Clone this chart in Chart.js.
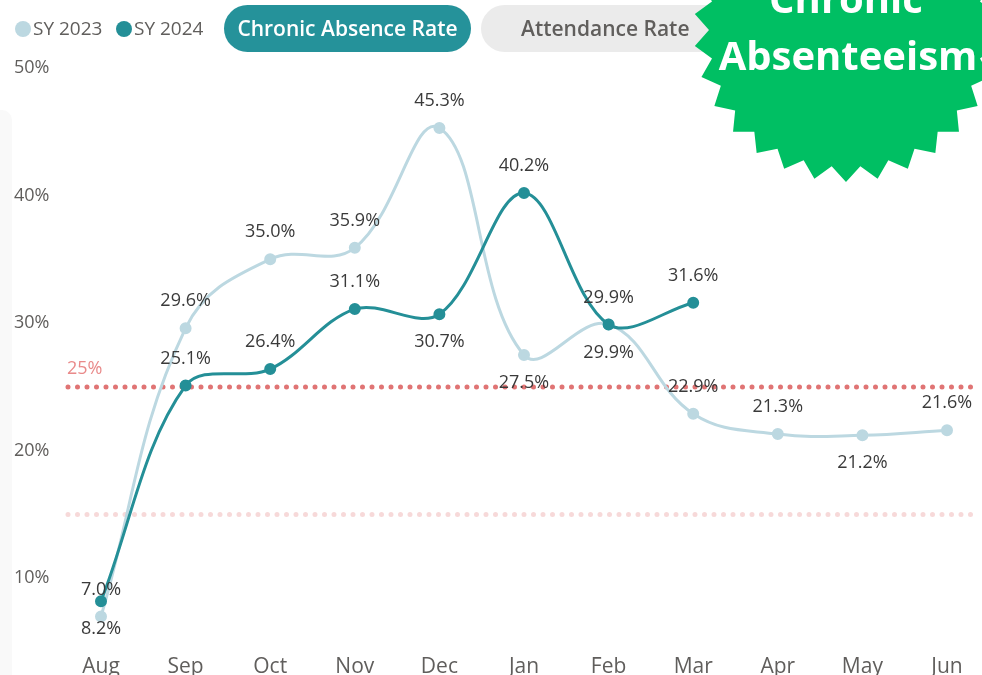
<!DOCTYPE html>
<html>
<head>
<meta charset="utf-8">
<script src="https://cdn.jsdelivr.net/npm/chart.js@4.4.1/dist/chart.umd.min.js"></script>
<style>
  html, body { margin: 0; padding: 0; background: #fff; }
  body { width: 982px; height: 675px; position: relative; overflow: hidden; font-family: "Open Sans", sans-serif; }
  #chart { position: absolute; left: 0; top: 0; }
  .strip { position: absolute; left: 0; top: 110px; width: 12px; height: 565px; background: #f9f9f9; border-top-right-radius: 10px; }
  .legend { position: absolute; top: 15px; font-size: 19px; color: #605e5c; line-height: 26px; }
  .legend span.dot { display: inline-block; width: 16px; height: 16px; border-radius: 50%; vertical-align: -2px; margin-right: 2px; }
  .pill { position: absolute; top: 5px; height: 47px; border-radius: 24px; font-weight: 600; font-size: 21px; line-height: 47px; text-align: center; }
  #burst { position: absolute; left: 690px; top: 0; }
</style>
</head>
<body>
<div class="strip"></div>
<canvas id="chart" width="982" height="675"></canvas>
<div class="legend" style="left:15px"><span class="dot" style="background:#bcd8e1"></span>SY 2023</div>
<div class="legend" style="left:116px"><span class="dot" style="background:#248f97"></span>SY 2024</div>
<div class="pill" style="left:224px;width:247px;background:#25929a;color:#fff">Chronic Absence Rate</div>
<div class="pill" style="left:481px;width:250px;background:#ebebeb;color:#605e5c;text-align:left;padding-left:40px;box-sizing:border-box">Attendance Rate</div>
<canvas id="burst" width="292" height="190"></canvas>
<script>
const months = ['Aug', 'Sep', 'Oct', 'Nov', 'Dec', 'Jan', 'Feb', 'Mar', 'Apr', 'May', 'Jun'];
const sy2023 = [7.0, 29.6, 35.0, 35.9, 45.3, 27.5, 29.9, 22.9, 21.3, 21.2, 21.6];
const sy2024 = [8.2, 25.1, 26.4, 31.1, 30.7, 40.2, 29.9, 31.6];
const yTicks = [10, 20, 30, 40, 50];
const targetLine = 25;
const lowLine = 15;

// where each point's label sits (a = above, b = below)
const labelSide2023 = ['a', 'a', 'a', 'a', 'a', 'b', 'b', 'a', 'a', 'b', 'a'];
const labelSide2024 = ['b', 'a', 'a', 'a', 'b', 'a', 'a', 'a'];

const refLines = {
  id: 'refLines',
  beforeDatasetsDraw(chart) {
    const ctx = chart.ctx;
    const y = chart.scales.y;
    const left = chart.chartArea.left - 33, right = chart.chartArea.right + 25;
    const draw = (v, color) => {
      const py = y.getPixelForValue(v);
      ctx.save();
      ctx.strokeStyle = color;
      ctx.lineWidth = 5;
      ctx.lineCap = 'round';
      ctx.setLineDash([0, 9.5]);
      ctx.beginPath();
      ctx.moveTo(left, py);
      ctx.lineTo(right, py);
      ctx.stroke();
      ctx.restore();
      return py;
    };
    draw(lowLine, '#f7d9d9');
    const py = draw(targetLine, '#e07474');
    ctx.save();
    ctx.fillStyle = '#e98a8a';
    ctx.font = '18px "Open Sans"';
    ctx.textAlign = 'left';
    ctx.textBaseline = 'middle';
    ctx.fillText(targetLine + '%', left - 1, py - 18);
    ctx.restore();
  }
};

const pointLabels = {
  id: 'pointLabels',
  afterDatasetsDraw(chart) {
    const ctx = chart.ctx;
    const sides = [labelSide2023, labelSide2024];
    ctx.save();
    ctx.fillStyle = '#3a3a3a';
    ctx.font = '18px "Open Sans"';
    ctx.textAlign = 'center';
    ctx.textBaseline = 'middle';
    chart.data.datasets.forEach((ds, i) => {
      chart.getDatasetMeta(i).data.forEach((pt, j) => {
        const dy = sides[i][j] === 'a' ? -27 : 28;
        ctx.fillText(ds.data[j].toFixed(1) + '%', pt.x, pt.y + dy);
      });
    });
    ctx.restore();
  }
};

new Chart(document.getElementById('chart'), {
  type: 'line',
  data: {
    labels: months,
    datasets: [
      {
        label: 'SY 2023',
        data: sy2023,
        borderColor: '#bcd8e1',
        backgroundColor: '#bcd8e1',
        borderWidth: 3,
        pointRadius: 4.5,
        tension: 0.4,
        order: 2
      },
      {
        label: 'SY 2024',
        data: sy2024,
        borderColor: '#248f97',
        backgroundColor: '#248f97',
        borderWidth: 3,
        pointRadius: 4.5,
        tension: 0.35,
        order: 1
      }
    ]
  },
  options: {
    responsive: false,
    animation: false,
    layout: { padding: { top: 68, left: 14, right: 35, bottom: 0 } },
    plugins: { legend: { display: false }, tooltip: { enabled: false } },
    scales: {
      x: {
        grid: { display: false },
        border: { display: false },
        ticks: { color: '#605e5c', font: { family: 'Open Sans', size: 21 }, padding: 4, maxRotation: 0 },
        afterFit(scale) { scale.height = 33; }
      },
      y: {
        min: 5,
        max: 50,
        grid: { display: false },
        border: { display: false },
        afterBuildTicks(scale) { scale.ticks = yTicks.map(v => ({ value: v })); },
        ticks: {
          color: '#605e5c',
          font: { family: 'Open Sans', size: 18 },
          crossAlign: 'far',
          callback: v => v + '%'
        },
        afterFit(scale) { scale.width = 87; }
      }
    }
  },
  plugins: [refLines, pointLabels]
});

// green badge
const bc = document.getElementById('burst').getContext('2d');
const cx = 156, cy = 30, spikes = 30, rOut = 152, rIn = 137;
bc.fillStyle = '#00bf63';
bc.beginPath();
for (let k = 0; k < spikes * 2; k++) {
  const r = k % 2 === 0 ? rOut : rIn;
  const a = Math.PI / 2 + k * Math.PI / spikes;
  const px = cx + r * Math.cos(a), py = cy + r * Math.sin(a);
  if (k === 0) bc.moveTo(px, py); else bc.lineTo(px, py);
}
bc.closePath();
bc.fill();
bc.fillStyle = '#fff';
bc.font = 'bold 40px "Open Sans"';
bc.textAlign = 'center';
bc.textBaseline = 'alphabetic';
bc.fillText('Chronic', cx, 13);
bc.fillText('Absenteeism', cx + 2, 70);
</script>
</body>
</html>
